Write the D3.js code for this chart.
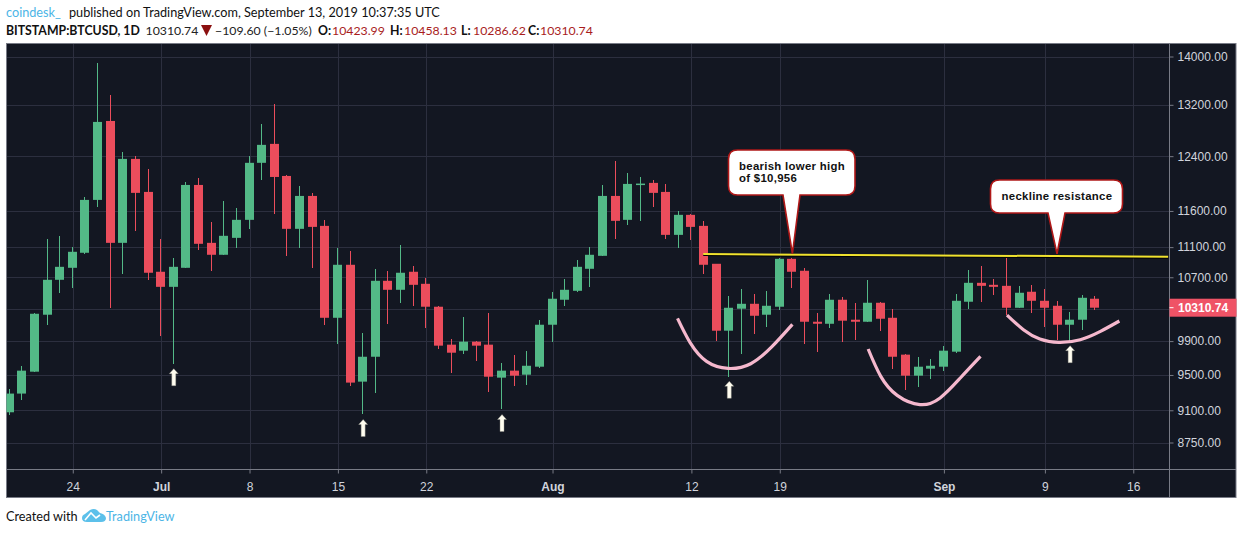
<!DOCTYPE html>
<html><head><meta charset="utf-8">
<script src="https://cdn.jsdelivr.net/npm/d3@7/dist/d3.min.js"></script>
<style>
html,body{margin:0;padding:0;background:#fff;overflow:hidden}
svg{display:block}
text{font-family:"Liberation Sans",Arial,sans-serif}
.hdr{font-family:Lato,"Open Sans",sans-serif;font-size:12.7px}
.hdr2{font-family:Lato,"Open Sans",sans-serif;font-size:12.3px}
.ax text{fill:#d1d4dc;font-size:12px;font-family:"Liberation Sans",Arial,sans-serif}
</style></head><body><svg id="c" width="1242" height="534"></svg>
<script>
const firstDay = "2019-06-19";
const opens  = [9078,9287,9538,10223,10667,10824,11024,11757,12943,11158,12359,11872,10772,10576,10824,11973,11158,10997,11226,11475,12300,12587,12105,11350,11814,11391,10185,10864,9423,9713,10654,10538,10772,10615,10323,9857,9785,9893,9857,9469,9550,9503,9596,10099,10411,10525,10811,10983,11814,11475,11979,12003,11872,11267,11545,11391,10877,10026,10298,10360,10223,10323,10943,10785,10136,10111,10411,10161,10136,10373,10185,9738,9492,9573,9596,9773,10386,10628,10602,10589,10310,10513,10398,10335,10099,10161,10423.99];
const highs  = [9340,9607,10244,11212,11257,11104,11800,13891,13360,12465,12404,12210,11212,10957,12018,12076,11447,11743,11643,12404,12897,13215,12120,11959,11858,11475,11091,11051,10002,10811,10785,11131,10851,10693,10335,9929,10198,9905,10248,9643,9738,9785,10161,10513,10680,10930,11104,11973,12329,12151,12090,12047,11988,11601,11559,11461,10880,10462,10551,10487,10525,10950,10956,10824,10248,10487,10449,10373,10667,10386,10298,9740,9713,9690,9845,10487,10798,10851,10680,10957,10589,10602,10551,10398,10260,10475,10458.13];
const lows   = [9053,9219,9538,10099,10500,10564,11011,11657,10310,10746,11322,10667,9965,9631,10824,11064,10785,10997,11091,11350,12047,11559,10983,11091,10824,10099,9869,9378,9064,9298,10111,10373,10335,10062,9809,9526,9750,9666,9310,9119,9378,9389,9584,9893,10335,10513,10576,10983,11212,11405,11461,11657,11212,11091,11199,10746,9905,9480,9750,9990,10074,10285,10564,9869,9773,10062,9893,9917,10136,10026,9573,9332,9366,9457,9550,9761,10298,10386,10475,10223,10310,10248,10074,9917,9905,10038,10286.62];
const closes = [9287,9550,10235,10667,10837,11037,11757,12928,11158,12359,11858,10759,10576,10837,11973,11145,10997,11254,11475,12300,12572,12090,11350,11814,11377,10185,10864,9412,9713,10654,10538,10759,10602,10323,9845,9761,9893,9845,9480,9550,9492,9607,10099,10424,10538,10837,10997,11814,11461,11988,11993,11858,11267,11545,11377,10864,10026,10310,10360,10210,10335,10943,10772,10136,10111,10411,10149,10136,10373,10173,9713,9492,9596,9607,9785,10398,10628,10589,10576,10310,10500,10398,10310,10099,10161,10436,10310.74];

const priceTicks = [14000,13200,12400,11600,11100,10700,10300,9900,9500,9100,8750];
const priceLabelTicks = [14000,13200,12400,11600,11100,10700,9900,9500,9100,8750];
const dateTicks = ["2019-06-24","2019-07-01","2019-07-08","2019-07-15","2019-07-22","2019-08-01","2019-08-12","2019-08-19","2019-09-01","2019-09-09","2019-09-16"];
const dateLabels = ["24","Jul","8","15","22","Aug","12","19","Sep","9","16"];
const lastPrice = 10310.74;

// annotations: [day offset from firstDay, price]
const neckline = [[54.94,11006],[91.76,10971]];
const cup1 = [[52.9,10177],[53.9,9881],[55.2,9658],[56.9,9576],[58.7,9631],[60.4,9836],[62.0,10103]];
const cup2 = [[68.0,9805],[69.0,9484],[70.3,9267],[72.1,9163],[73.7,9238],[75.3,9465],[76.9,9717]];
const cup3 = [[79.0,10219],[80.3,10038],[81.6,9925],[83.1,9884],[84.8,9917],[86.4,10018],[87.9,10145]];
const arrowDays = [13,28,39,57,84];
const arrowPrices = [9573,8998,9053,9427,9845];
const calloutTips = [[62.0,11011],[82.96,11011]];

const W=1242, H=534, L=6.5, R=1169.5, T=43.5, B=469.5, OR=1236, OB=497.5;
const UP="#53b987", DOWN="#eb4d5c", BG="#131722", GRID="#2c2f3f", BORDER="#787b86";
const day0 = d3.isoParse(firstDay+"T00:00:00Z");
const dayDate = d => new Date(day0.getTime()+d*864e5);

const x = d3.scaleUtc().domain([dayDate(-0.25),dayDate(91.87)]).range([L,R]);
const y = d3.scaleLog().domain([14000,8750]).range([56.5,442.5]);
const xd = d => x(dayDate(d));

const svg = d3.select("#c");
svg.append("rect").attr("x",L).attr("y",T).attr("width",OR-L).attr("height",OB-T).attr("fill",BG).attr("stroke",BORDER).attr("stroke-width",1);
svg.append("defs").append("clipPath").attr("id","p").append("rect").attr("x",L).attr("y",T).attr("width",R-L).attr("height",B-T);

const tickDates = dateTicks.map(d=>d3.isoParse(d+"T00:00:00Z"));
// grid
const grid = svg.append("g").attr("shape-rendering","crispEdges").attr("stroke",GRID);
grid.selectAll("line.h").data(priceTicks).join("line").attr("x1",L).attr("x2",R).attr("y1",d=>Math.round(y(d))+.5).attr("y2",d=>Math.round(y(d))+.5);
grid.selectAll("line.v").data(tickDates).join("line").attr("y1",T).attr("y2",B).attr("x1",d=>Math.round(x(d))+.5).attr("x2",d=>Math.round(x(d))+.5);

// axes
const ay = svg.append("g").attr("class","ax").attr("transform",`translate(${R},0)`)
 .call(d3.axisRight(y).tickValues(priceLabelTicks).tickFormat(d3.format(".2f")).tickSize(4).tickPadding(4));
const ax = svg.append("g").attr("class","ax").attr("transform",`translate(0,${B})`)
 .call(d3.axisBottom(x).tickValues(tickDates).tickFormat((d,i)=>dateLabels[i]).tickSize(4).tickPadding(9));
ax.selectAll("text").style("font-weight",(d,i)=>/[A-Za-z]/.test(dateLabels[i])?"bold":"normal");
[ay,ax].forEach(a=>{a.select(".domain").attr("stroke",BORDER).attr("d",null);a.selectAll(".tick line").attr("stroke",BORDER);});
svg.append("line").attr("x1",L).attr("x2",OR).attr("y1",B).attr("y2",B).attr("stroke",BORDER);
svg.append("line").attr("x1",R).attr("x2",R).attr("y1",T).attr("y2",OB).attr("stroke",BORDER);

// candles
const plot = svg.append("g").attr("clip-path","url(#p)");
const rows = d3.range(opens.length);
const col = i=>closes[i]>=opens[i]?UP:DOWN;
const cx = i=>Math.round(xd(i))-.5;
plot.append("g").attr("shape-rendering","crispEdges").selectAll("line").data(rows).join("line")
 .attr("x1",cx).attr("x2",cx)
 .attr("y1",i=>y(highs[i])).attr("y2",i=>y(lows[i])).attr("stroke",col);
plot.append("g").selectAll("rect").data(rows).join("rect")
 .attr("x",i=>cx(i)-4.5).attr("width",9)
 .attr("y",i=>y(Math.max(opens[i],closes[i])))
 .attr("height",i=>Math.max(1.5,Math.abs(y(opens[i])-y(closes[i]))))
 .attr("fill",col);

// annotations
const ln = d3.line().x(d=>xd(d[0])).y(d=>y(d[1]));
plot.append("path").attr("d",ln(neckline)).attr("transform","translate(0,1.2)").attr("stroke","#000").attr("stroke-width",1.5).attr("fill","none");
plot.append("path").attr("d",ln(neckline)).attr("stroke","#f0e22e").attr("stroke-width",2).attr("fill","none");
const cl = d3.line().x(d=>xd(d[0])).y(d=>y(d[1])).curve(d3.curveNatural);
[cup1,cup2,cup3].forEach(c=>plot.append("path").attr("d",cl(c)).attr("fill","none").attr("stroke","#f5b8cd").attr("stroke-width",3.2));

svg.append("g").selectAll("path").data(arrowDays).join("path")
 .attr("transform",(d,i)=>`translate(${xd(d)},${y(arrowPrices[i])})`)
 .attr("d","M0,0L4.5,5H2V17H-2V5H-4.5Z")
 .attr("fill","#fffdf0").attr("stroke","#8a8a80").attr("stroke-width",.4);

function callout(bx0,by0,bx1,by1,t0,t1,tip,r){
  const tx=xd(tip[0]),ty=y(tip[1]);
  return `M${bx0+r},${by0}H${bx1-r}Q${bx1},${by0} ${bx1},${by0+r}V${by1-r}Q${bx1},${by1} ${bx1-r},${by1}H${t1}L${tx},${ty}L${t0},${by1}H${bx0+r}Q${bx0},${by1} ${bx0},${by1-r}V${by0+r}Q${bx0},${by0} ${bx0+r},${by0}Z`;
}
const BOX={fill:"#fff",stroke:"#b01818"};
svg.append("path").attr("d",callout(728.5,150,855,195,783,800,calloutTips[0],9)).attr("fill",BOX.fill).attr("stroke",BOX.stroke).attr("stroke-width",1.6);
svg.append("path").attr("d",callout(990.5,180,1122.5,213,1048,1065,calloutTips[1],9)).attr("fill",BOX.fill).attr("stroke",BOX.stroke).attr("stroke-width",1.6);
const ct = {"font-size":"11.4px","font-weight":"bold",fill:"#111","letter-spacing":"0.3px"};
const tx = (s,xx,yy,extra={})=>{const e=svg.append("text").attr("x",xx).attr("y",yy).text(s);Object.entries({...ct,...extra}).forEach(([k,v])=>e.style(k,v));return e;};
tx("bearish lower high",739,170);
tx("of $10,956",739,182);
tx("neckline resistance",1001.5,200);

// last price tag
const py=y(lastPrice);
svg.append("rect").attr("x",R).attr("y",py-9).attr("width",OR-R+.5).attr("height",18).attr("fill","#ef5366");
svg.append("line").attr("x1",R).attr("x2",R+4).attr("y1",py).attr("y2",py).attr("stroke","#fff");
svg.append("text").attr("x",R+8.5).attr("y",py+4.5).attr("fill","#fff").style("font-size","12px").style("font-weight","bold").text(d3.format(".2f")(lastPrice));

// header
const h1=svg.append("text").attr("class","hdr").attr("x",6).attr("y",17).attr("fill","#111");
h1.append("tspan").attr("fill","#4cb5e6").text("coindesk_");
h1.append("tspan").attr("x",69).text("published on TradingView.com, September 13, 2019 10:37:35 UTC");
const h2=svg.append("g");
const seg=[["BITSTAMP:BTCUSD, 1D",6,"#111",true],["10310.74",145.5,"#222",false],["−109.60 (−1.05%)",215,"#222",false],
 ["O:",318,"#111",true],["10423.99",332,"#a81c1c",false],["H:",390,"#111",true],["10458.13",404,"#a81c1c",false],
 ["L:",461,"#111",true],["10286.62",473,"#a81c1c",false],["C:",528,"#111",true],["10310.74",540,"#a81c1c",false]];
seg.forEach(s=>h2.append("text").attr("class","hdr2").attr("x",s[1]).attr("y",35).attr("fill",s[2]).style("font-weight",s[3]?"bold":"normal").text(s[0]));
svg.append("path").attr("d","M201,25H212L206.5,36Z").attr("fill","#8b1010");

// footer
svg.append("text").attr("class","hdr").attr("x",6).attr("y",521).attr("fill","#111").text("Created with");
svg.append("text").attr("class","hdr").attr("x",106).attr("y",521).attr("fill","#4cb5e6").text("TradingView");
svg.append("path").attr("d","M82,518Q82,515 85,514L90,510Q94,508 97,510L100,513Q105,514 106,518Q106,522 101,522H87Q82,522 82,518Z").attr("fill","#5cc0ea");
svg.append("path").attr("d","M85,520L91,513L96,518L100,515").attr("fill","none").attr("stroke","#fff").attr("stroke-width",1.6);
</script></body></html>
